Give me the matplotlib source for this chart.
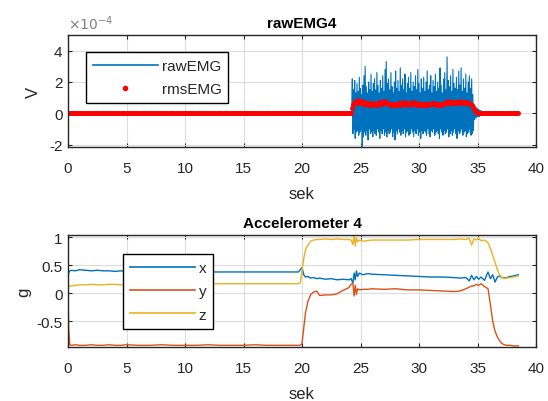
import numpy as np
import matplotlib
matplotlib.use("Agg")
import matplotlib.pyplot as plt
from matplotlib.lines import Line2D

plt.rcParams['font.family'] = ['Liberation Sans', 'DejaVu Sans']

# ---------------- EMG data (units of 1e-4 V) ----------------
emg_burst_start = 24.3
emg_pair_step = 0.1
emg_pos = [2.2, 1.5, 2.1, 1.3, 1.9, 1.4, 2.3, 1.6, 1.2, 1.8,
           2.4, 3.0, 1.7, 1.3, 2.0, 1.5, 2.5, 1.4, 1.9, 2.2,
           1.5, 2.6, 1.8, 1.3, 2.1, 1.6, 2.4, 1.4, 2.8, 3.3,
           1.9, 2.2, 1.5, 2.6, 1.7, 1.3, 2.0, 2.7, 1.6, 2.1,
           1.4, 2.9, 1.8, 2.2, 1.5, 2.5, 1.3, 1.9, 2.3, 1.6,
           2.6, 1.4, 2.0, 1.7, 2.4, 1.5, 2.8, 1.9, 1.3, 2.2,
           1.6, 2.3, 1.4, 2.0, 2.7, 1.5, 1.8, 2.4, 1.3, 2.1,
           1.7, 2.5, 1.4, 2.0, 1.6, 2.9, 1.8, 1.3, 2.2, 2.6,
           1.5, 3.6, 2.1, 1.7, 2.4, 1.4, 2.8, 1.9, 1.6, 2.3,
           1.5, 2.7, 1.8, 2.9, 1.4, 2.2, 1.6, 2.5, 1.3, 2.0,
           2.4, 1.6, 2.2, 1.2]
emg_neg = [-1.3, -1.0, -1.6, -1.2, -1.1, -1.4, -1.2, -1.0, -2.1, -1.5,
           -1.2, -1.4, -1.1, -1.7, -1.0, -1.3, -1.2, -1.5, -1.1, -1.3,
           -1.4, -1.0, -1.2, -1.6, -1.1, -1.3, -1.0, -1.4, -1.2, -1.5,
           -1.1, -1.3, -1.2, -1.0, -1.5, -1.2, -1.7, -1.1, -1.3, -1.0,
           -1.2, -1.4, -1.1, -1.3, -1.0, -1.5, -1.2, -1.1, -1.4, -1.3,
           -1.0, -1.2, -1.5, -1.1, -1.3, -1.0, -1.4, -1.2, -1.6, -1.1,
           -1.3, -1.1, -1.2, -1.4, -1.0, -1.3, -1.5, -1.1, -1.2, -1.0,
           -1.4, -1.2, -1.1, -1.3, -1.6, -1.0, -1.2, -1.4, -1.1, -1.3,
           -1.2, -1.0, -1.5, -1.3, -1.1, -1.4, -1.2, -1.0, -1.3, -1.6,
           -1.1, -1.3, -1.2, -1.0, -1.4, -1.2, -1.1, -1.5, -1.3, -1.2,
           -1.0, -1.4, -1.3, -1.1]
emg_tail_start = 34.7
emg_tail_step = 0.05
emg_tail = [0.5, -0.4, 0.4, -0.3, 0.35, -0.25, 0.3, -0.2, 0.25, -0.2, 0.2,
            -0.15, 0.15, -0.1, 0.1, -0.1, 0.08, -0.05, 0.05, -0.05, 0.03, -0.03]
emg_end_time = 38.5

rms_step = 0.1
rms_baseline = 0.05
rms_burst = [0.35, 0.60, 0.72, 0.80, 0.68, 0.85, 0.74, 0.66, 0.78, 0.62,
             0.70, 0.58, 0.66, 0.55, 0.63, 0.52, 0.60, 0.57, 0.64, 0.53,
             0.61, 0.56, 0.67, 0.59, 0.72, 0.62, 0.70, 0.76, 0.66, 0.73,
             0.64, 0.60, 0.55, 0.62, 0.50, 0.58, 0.54, 0.61, 0.52, 0.57,
             0.63, 0.56, 0.66, 0.60, 0.70, 0.62, 0.58, 0.65, 0.55, 0.60,
             0.67, 0.59, 0.72, 0.64, 0.61, 0.56, 0.63, 0.53, 0.58, 0.51,
             0.57, 0.54, 0.60, 0.52, 0.59, 0.55, 0.62, 0.57, 0.64, 0.58,
             0.66, 0.60, 0.55, 0.61, 0.53, 0.58, 0.56, 0.62, 0.59, 0.65,
             0.70, 0.63, 0.76, 0.68, 0.73, 0.66, 0.71, 0.64, 0.69, 0.74,
             0.67, 0.72, 0.78, 0.70, 0.75, 0.68, 0.73, 0.66, 0.71, 0.64,
             0.68, 0.60, 0.52, 0.40, 0.28, 0.17, 0.10]

# ---------------- Accelerometer data (g) ----------------
acc_t = [0, 0.05, 0.15, 0.3, 0.6, 1, 1.5, 2, 2.5, 3, 3.5, 4, 4.5, 5, 6, 7, 8, 9,
         10, 11, 12, 13, 14, 15, 16, 17, 18, 19, 19.7, 19.85, 20.0, 20.15, 20.3,
         20.5, 20.75, 21.0, 21.25, 21.5, 22, 22.5, 23, 23.5, 24, 24.2, 24.35,
         24.45, 24.55, 24.65, 24.75, 24.9, 25.2, 25.6, 26, 27, 28, 29, 30, 31,
         32, 33, 33.5, 34, 34.3, 34.5, 34.7, 34.9, 35.1, 35.3, 35.6, 35.9, 36.1,
         36.3, 36.5, 36.7, 36.9, 37.1, 37.3, 37.5, 37.8, 38.1, 38.5]
acc_x = [0.22, 0.36, 0.40, 0.41, 0.40, 0.42, 0.41, 0.40, 0.41, 0.40, 0.40, 0.39,
         0.40, 0.39, 0.39, 0.38, 0.39, 0.38, 0.38, 0.38, 0.38, 0.38, 0.38, 0.38,
         0.38, 0.38, 0.38, 0.38, 0.38, 0.42, 0.46, 0.33, 0.29, 0.30, 0.27, 0.28,
         0.26, 0.27, 0.25, 0.26, 0.24, 0.25, 0.24, 0.26, 0.18, 0.36, 0.24, 0.40,
         0.30, 0.36, 0.33, 0.35, 0.34, 0.33, 0.32, 0.31, 0.30, 0.29, 0.29, 0.28,
         0.27, 0.28, 0.22, 0.32, 0.24, 0.30, 0.25, 0.29, 0.23, 0.38, 0.26, 0.33,
         0.20, 0.29, 0.31, 0.28, 0.27, 0.28, 0.30, 0.31, 0.33]
acc_y = [0.0, -0.60, -0.92, -0.93, -0.92, -0.93, -0.93, -0.92, -0.93, -0.93,
         -0.92, -0.93, -0.93, -0.92, -0.93, -0.93, -0.92, -0.93, -0.93, -0.93,
         -0.92, -0.93, -0.93, -0.93, -0.92, -0.93, -0.93, -0.93, -0.93, -0.93,
         -0.90, -0.62, -0.35, -0.15, -0.02, 0.02, 0.04, -0.04, -0.03, -0.03,
         -0.01, 0.05, 0.10, 0.16, 0.18, -0.05, 0.14, -0.02, 0.08, 0.06, 0.07,
         0.07, 0.08, 0.07, 0.08, 0.06, 0.06, 0.05, 0.04, 0.03, 0.04, 0.08, 0.11,
         0.13, 0.13, 0.16, 0.14, 0.17, 0.12, 0.08, -0.20, -0.50, -0.68, -0.78,
         -0.85, -0.90, -0.92, -0.93, -0.93, -0.94, -0.94]
acc_z = [0.10, 0.12, 0.13, 0.13, 0.14, 0.15, 0.15, 0.16, 0.15, 0.15, 0.16, 0.16,
         0.15, 0.16, 0.16, 0.17, 0.17, 0.16, 0.17, 0.17, 0.17, 0.17, 0.17, 0.17,
         0.17, 0.17, 0.17, 0.17, 0.17, 0.18, 0.40, 0.62, 0.78, 0.86, 0.93, 0.95,
         0.96, 0.96, 0.97, 0.96, 0.97, 0.96, 0.96, 0.95, 0.87, 1.04, 0.84, 0.99,
         0.92, 0.95, 0.93, 0.94, 0.95, 0.95, 0.95, 0.95, 0.96, 0.96, 0.96, 0.96,
         0.97, 0.96, 0.98, 0.86, 0.97, 0.95, 0.98, 0.94, 0.95, 0.90, 0.80, 0.68,
         0.55, 0.42, 0.32, 0.28, 0.26, 0.27, 0.28, 0.29, 0.31]

# ---------------- build sample times ----------------
n_pairs = len(emg_pos)
burst_t = emg_burst_start + emg_pair_step * np.arange(n_pairs)
burst_t = np.column_stack([burst_t, burst_t + emg_pair_step / 2]).ravel()
burst_v = np.column_stack([emg_pos, emg_neg]).ravel()
tail_t = emg_tail_start + emg_tail_step * np.arange(len(emg_tail))
raw_t = np.concatenate([[0.0, emg_burst_start - 0.05], burst_t, tail_t,
                        [tail_t[-1] + 0.05, emg_end_time]])
raw_v = np.concatenate([[0.0, 0.0], burst_v, emg_tail, [0.0, 0.0]])

n_pre = int(round(emg_burst_start / rms_step))
rms_t = rms_step * np.arange(int(round(emg_end_time / rms_step)) + 1)
n_post = len(rms_t) - n_pre - len(rms_burst)
rms_v = np.concatenate([np.full(n_pre, rms_baseline), rms_burst,
                        np.full(n_post, rms_baseline)])

# ---------------- styling ----------------
BLUE = '#0072BD'
ORANGE = '#D95319'
YELLOW = '#EDB120'
TXT = '#262626'
FS = 11

fig = plt.figure(figsize=(5.48, 4.02), dpi=100)
ax1 = fig.add_axes([68 / 548, 1 - 148 / 402, 468 / 548, 112 / 402])
ax2 = fig.add_axes([68 / 548, 1 - 348 / 402, 468 / 548, 112 / 402])


def style(ax):
    ax.grid(True, color='#dcdcdc', linewidth=0.8)
    ax.set_axisbelow(True)
    ax.tick_params(direction='in', top=True, right=True, length=3,
                   labelsize=FS, colors=TXT, width=0.8)
    ax.tick_params(axis='x', pad=10)
    ax.tick_params(axis='y', pad=4)
    for s in ax.spines.values():
        s.set_color(TXT)
        s.set_linewidth(1.0)
    ax.set_xlim(0, 40)
    ax.set_xticks(np.arange(0, 41, 5))


style(ax1)
style(ax2)

ax1.plot(raw_t, raw_v, color=BLUE, linewidth=0.8, label='rawEMG')
ax1.plot(rms_t, rms_v, '.', color='red', markersize=5, label='rmsEMG')
ax1.set_ylim(-2.15, 5.0)
ax1.set_yticks([-2, 0, 2, 4])
ax1.set_yticklabels(['-2', '0', '2', '4'])
ax1.set_title('rawEMG4', fontsize=FS, fontweight='bold', color='black', pad=6)
ax1.set_xlabel('sek', fontsize=12, color=TXT, labelpad=8)
ax1.set_ylabel('V', fontsize=12, color=TXT, labelpad=6)
ax1.text(0.0, 1.025, r'$\times10^{-4}$', transform=ax1.transAxes, fontsize=10,
         color='#808080', ha='left', va='bottom')

h1 = [Line2D([], [], color=BLUE, linewidth=1.2),
      Line2D([], [], color='red', marker='.', linestyle='none', markersize=6)]
leg_kw = dict(loc='upper left', fontsize=FS, frameon=True, fancybox=False,
              edgecolor='black', framealpha=1, handlelength=4.25,
              handletextpad=0.25, borderpad=0.45, labelspacing=0.62,
              borderaxespad=0)
leg1 = fig.legend(h1, ['rawEMG', 'rmsEMG'],
                  bbox_to_anchor=(86 / 548, 1 - 53 / 402), **leg_kw)
leg1.get_frame().set_linewidth(1.0)
for t in leg1.get_texts():
    t.set_color(TXT)

ax2.plot(acc_t, acc_x, color=BLUE, linewidth=1.0, label='x')
ax2.plot(acc_t, acc_y, color=ORANGE, linewidth=1.0, label='y')
ax2.plot(acc_t, acc_z, color=YELLOW, linewidth=1.0, label='z')
ax2.set_ylim(-0.96, 1.04)
ax2.set_yticks([-0.5, 0, 0.5, 1])
ax2.set_yticklabels(['-0.5', '0', '0.5', '1'])
ax2.set_title('Accelerometer 4', fontsize=FS, fontweight='bold', color='black', pad=6)
ax2.set_xlabel('sek', fontsize=12, color=TXT, labelpad=8)
ax2.set_ylabel('g', fontsize=12, color=TXT, labelpad=4)

h2 = [Line2D([], [], color=c, linewidth=1.2) for c in (BLUE, ORANGE, YELLOW)]
leg2 = fig.legend(h2, ['x', 'y', 'z'],
                  bbox_to_anchor=(123 / 548, 1 - 255 / 402), **leg_kw)
leg2.get_frame().set_linewidth(1.0)
for t in leg2.get_texts():
    t.set_color(TXT)

fig.savefig('out.png', dpi=100)
